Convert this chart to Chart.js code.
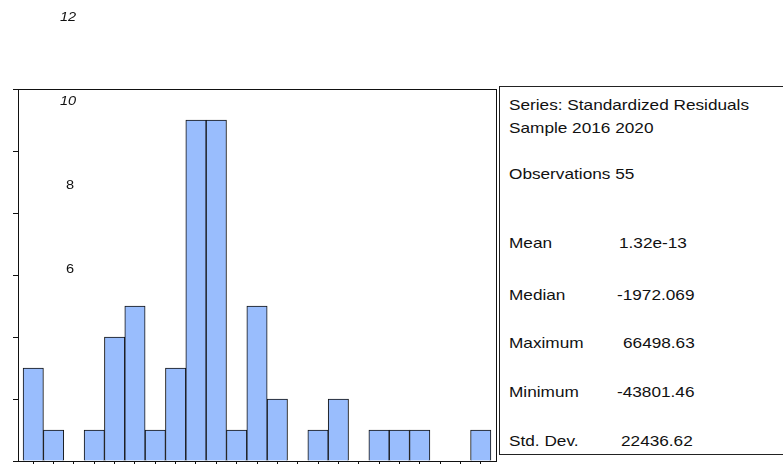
<!DOCTYPE html>
<html lang="en">
  <head>
    <meta charset="utf-8" />
    <title>Histogram of Standardized Residuals</title>
    <style>
      * {
        margin: 0;
        padding: 0;
        font-family: "Liberation Sans", Arial, sans-serif;
      }
      body {
        width: 783px;
        height: 464px;
        overflow: hidden;
        background: white;
        position: relative;
      }
      .chartBox {
        position: absolute;
        left: 0;
        top: 0;
        width: 783px;
        height: 464px;
      }
      .ylab {
        position: absolute;
        font-size: 13px;
        color: #111;
        transform: scaleX(1.12);
        transform-origin: left top;
      }
      .statsBox {
        position: absolute;
        left: 499px;
        top: 86px;
        width: 300px;
        height: 367px;
        border: 1px solid #222;
        background: white;
        font-size: 15px;
        color: #111;
      }
      .statsBox div {
        position: absolute;
        white-space: nowrap;
        transform: scaleX(1.147);
        transform-origin: left top;
      }
    </style>
  </head>
  <body>
    <div class="chartBox">
      <canvas id="myChart" width="783" height="464"></canvas>
    </div>
    <div id="ylabels"></div>
    <div class="statsBox" id="stats"></div>

    <script src="https://cdn.jsdelivr.net/npm/chart.js"></script>

    <script>
      // bin centres (bins 5000 wide, from -45000 to 70000)
      const binCentres = [
        -42500, -37500, -32500, -27500, -22500, -17500, -12500, -7500, -2500, 2500,
        7500, 12500, 17500, 22500, 27500, 32500, 37500, 42500, 47500, 52500,
        57500, 62500, 67500,
      ];
      const counts = [3, 1, 0, 1, 4, 5, 1, 3, 11, 11, 1, 5, 2, 0, 1, 2, 0, 1, 1, 1, 0, 0, 1];

      // stray tick labels as they appear in the picture
      const yTickLabels = ["12", "10", "8", "6"];

      const statNames = ["Mean", "Median", "Maximum", "Minimum", "Std. Dev."];
      const statValues = ["1.32e-13", "-1972.069", "66498.63", "-43801.46", "22436.62"];

      const binWidth = 5000;
      const xMin = binCentres[0] - binWidth / 2;
      const xMax = binCentres[binCentres.length - 1] + binWidth / 2;

      // frame around the plot area
      const framePlugin = {
        id: "frame",
        afterDraw(chart) {
          const { ctx, chartArea } = chart;
          ctx.save();
          ctx.strokeStyle = "#111";
          ctx.lineWidth = 1;
          ctx.strokeRect(chartArea.left + 0.5, chartArea.top + 0.5,
            chartArea.right - chartArea.left, chartArea.bottom - chartArea.top);
          ctx.restore();
        },
      };

      const config = {
        type: "bar",
        data: {
          datasets: [
            {
              data: binCentres.map((x, i) => ({ x: x, y: counts[i] })),
              backgroundColor: "#99bdfd",
              borderColor: "#111",
              borderWidth: 1,
              borderSkipped: "bottom",
              barPercentage: 1,
              categoryPercentage: 1,
            },
          ],
        },
        options: {
          responsive: false,
          animation: false,
          layout: {
            padding: { left: 13, top: 89, right: 287, bottom: 0 },
          },
          plugins: {
            legend: { display: false },
            tooltip: { enabled: false },
          },
          scales: {
            x: {
              type: "linear",
              offset: false,
              min: xMin - binWidth / 4,
              max: xMax + binWidth / 4,
              afterBuildTicks: (s) => {
                const t = [];
                for (let v = xMin; v <= xMax; v += binWidth) t.push({ value: v });
                s.ticks = t;
              },
              grid: {
                drawOnChartArea: false,
                drawTicks: true,
                tickLength: 3,
                color: "#111",
              },
              border: { color: "#111" },
              ticks: { display: false },
              afterFit: (s) => { s.height = 3; },
            },
            y: {
              min: 0,
              max: 12,
              ticks: { display: false, stepSize: 2 },
              grid: {
                drawOnChartArea: false,
                drawTicks: true,
                tickLength: 5,
                color: "#111",
              },
              border: { color: "#111" },
              afterFit: (s) => { s.width = 5; },
            },
          },
        },
        plugins: [framePlugin],
      };

      const myChart = new Chart(document.getElementById("myChart"), config);

      // y labels (misplaced in the original, kept where they show)
      const ylabTop = [9, 93, 177, 261];
      const ylabEl = document.getElementById("ylabels");
      yTickLabels.forEach((t, i) => {
        const d = document.createElement("div");
        d.className = "ylab";
        d.textContent = t;
        d.style.left = (t.length > 1 ? 60 : 66) + "px";
        d.style.top = ylabTop[i] + "px";
        if (i < 2) d.style.fontStyle = "italic";
        ylabEl.appendChild(d);
      });

      // stats box text
      const stats = document.getElementById("stats");
      const addText = (txt, x, y) => {
        const d = document.createElement("div");
        d.textContent = txt;
        d.style.left = x + "px";
        d.style.top = y + "px";
        stats.appendChild(d);
      };
      addText("Series: Standardized Residuals", 9, 9);
      addText("Sample 2016 2020", 9, 32);
      addText("Observations 55", 9, 78);
      const rowTop = [147, 199, 247, 296, 345];
      const valX = [119, 117, 123, 117, 121];
      statNames.forEach((n, i) => {
        addText(n, 9, rowTop[i]);
        addText(statValues[i], valX[i], rowTop[i]);
      });
    </script>
  </body>
</html>
